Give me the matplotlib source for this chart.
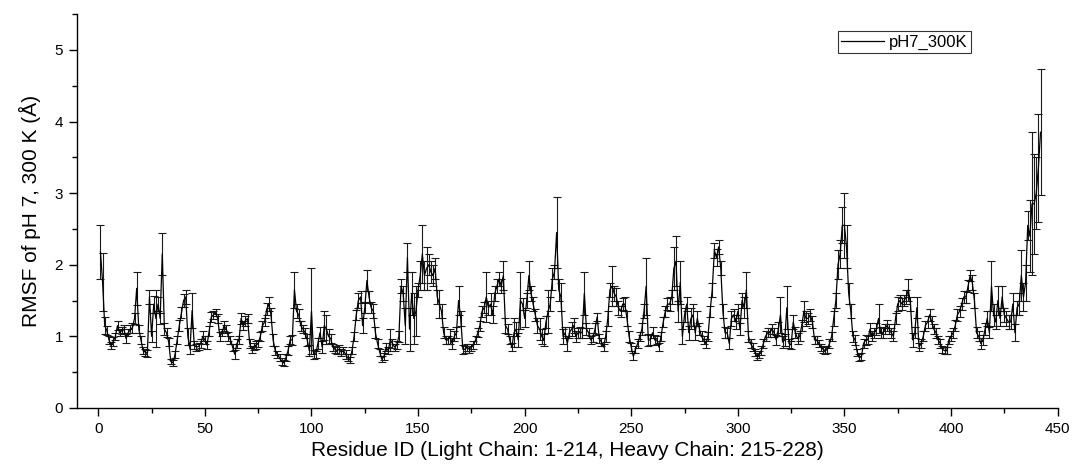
import numpy as np
import matplotlib
matplotlib.use("Agg")
import matplotlib.pyplot as plt
from matplotlib.ticker import MultipleLocator

plt.rcParams['font.family'] = ['Liberation Sans', 'DejaVu Sans']

# Per-residue RMSF (Å) for the Fab at pH 7, 300 K
rmsf = [
    2.18, 1.76, 1.15, 1.08, 0.95, 0.87, 0.93, 1.00, 1.15, 1.05,
    1.08, 1.10, 0.97, 1.05, 1.10, 1.12, 1.25, 1.67, 1.10, 0.95,
    0.80, 0.78, 0.76, 1.55, 1.00, 1.45, 1.25, 1.45, 1.25, 2.15,
    1.10, 1.05, 0.92, 0.65, 0.63, 0.75, 0.95, 1.15, 1.33, 1.50,
    1.55, 1.00, 0.82, 1.36, 0.88, 0.85, 0.86, 0.90, 1.00, 0.95,
    0.88, 1.08, 1.27, 1.30, 1.33, 1.25, 1.00, 1.05, 1.15, 1.10,
    1.00, 0.95, 0.85, 0.75, 0.90, 0.95, 1.25, 1.15, 1.22, 1.25,
    0.90, 0.82, 0.86, 0.88, 0.90, 1.00, 1.15, 1.20, 1.38, 1.45,
    1.30, 0.95, 0.80, 0.75, 0.70, 0.65, 0.63, 0.70, 0.80, 0.95,
    0.95, 1.65, 1.35, 1.30, 1.15, 1.10, 1.05, 0.95, 0.80, 1.35,
    0.75, 0.75, 0.90, 1.05, 0.85, 1.15, 1.10, 1.00, 0.97, 0.85,
    0.82, 0.80, 0.82, 0.78, 0.80, 0.75, 0.70, 0.67, 0.80, 1.00,
    1.30, 1.50, 1.55, 1.15, 1.40, 1.78, 1.55, 1.40, 1.35, 1.05,
    0.90, 0.78, 0.68, 0.72, 0.85, 0.80, 0.95, 0.90, 0.85, 0.88,
    1.00, 1.70, 1.60, 1.15, 2.10, 1.10, 1.60, 1.25, 1.35, 1.65,
    1.85, 2.15, 1.85, 1.95, 2.00, 1.90, 1.85, 1.95, 1.55, 1.45,
    1.35, 1.05, 0.95, 0.95, 1.00, 0.90, 1.00, 1.05, 1.50, 1.25,
    0.82, 0.82, 0.85, 0.82, 0.85, 0.88, 0.95, 1.05, 1.15, 1.35,
    1.40, 1.55, 1.40, 1.45, 1.30, 1.60, 1.70, 1.80, 1.70, 1.85,
    1.15, 1.10, 0.95, 0.85, 1.05, 1.10, 0.95, 1.50, 1.45, 1.25,
    1.50, 1.85, 1.60, 1.45, 1.30, 1.15, 1.10, 1.00, 0.95, 1.20,
    1.35, 1.45, 1.80, 1.90, 2.45, 1.65, 1.55, 1.00, 1.05, 0.90,
    1.05, 1.10, 1.15, 1.00, 1.05, 1.05, 1.05, 1.60, 1.10, 1.05,
    0.95, 0.98, 1.10, 1.27, 0.97, 0.92, 0.85, 1.00, 1.25, 1.65,
    1.70, 1.60, 1.55, 1.40, 1.35, 1.45, 1.45, 1.25, 1.00, 0.85,
    0.72, 0.82, 0.90, 1.00, 1.10, 1.35, 1.70, 0.95, 0.95, 1.05,
    0.95, 0.95, 0.85, 1.00, 1.20, 1.35, 1.45, 1.45, 1.55, 1.95,
    2.05, 1.35, 1.75, 1.00, 1.30, 1.45, 1.05, 1.25, 1.30, 1.05,
    1.25, 1.10, 1.00, 0.95, 0.90, 1.00, 1.35, 1.65, 2.20, 2.10,
    2.25, 1.95, 1.35, 1.05, 1.05, 0.90, 1.25, 1.30, 1.20, 1.35,
    1.10, 1.50, 1.40, 1.65, 1.00, 0.90, 0.85, 0.78, 0.72, 0.75,
    0.80, 0.90, 1.00, 1.05, 1.05, 1.10, 1.05, 0.95, 1.10, 1.30,
    0.92, 0.95, 1.40, 0.90, 0.88, 1.20, 1.05, 0.97, 1.00, 1.15,
    1.35, 1.25, 1.25, 1.30, 1.20, 0.95, 0.95, 0.90, 0.85, 0.82,
    0.80, 0.82, 0.90, 1.00, 1.25, 1.50, 2.00, 2.15, 2.55, 2.55,
    2.25, 1.60, 1.35, 1.00, 0.95, 0.78, 0.70, 0.72, 0.90, 0.95,
    0.95, 1.10, 1.00, 1.05, 1.10, 1.25, 1.05, 1.05, 1.10, 1.15,
    1.10, 1.05, 1.00, 1.25, 1.45, 1.50, 1.45, 1.50, 1.55, 1.65,
    1.45, 0.95, 1.05, 1.40, 0.85, 0.90, 1.00, 1.15, 1.20, 1.30,
    1.20, 1.10, 1.05, 0.95, 0.90, 0.82, 0.80, 0.80, 0.95, 1.00,
    1.05, 1.15, 1.30, 1.35, 1.45, 1.55, 1.55, 1.70, 1.85, 1.75,
    1.50, 1.05, 1.00, 0.90, 0.95, 1.10, 1.25, 1.05, 1.70, 1.30,
    1.20, 1.50, 1.25, 1.55, 1.30, 1.25, 1.20, 1.20, 1.45, 1.05,
    1.40, 1.45, 1.85, 1.55, 1.75, 2.55, 2.40, 2.85, 2.85, 3.00,
    3.35, 3.85,
]

# Standard deviation of the RMSF over replicas (Å)
rmsf_sd = [
    0.38, 0.40, 0.12, 0.06, 0.05, 0.05, 0.06, 0.05, 0.06, 0.05,
    0.05, 0.06, 0.06, 0.05, 0.06, 0.07, 0.08, 0.23, 0.06, 0.06,
    0.05, 0.05, 0.05, 0.10, 0.08, 0.12, 0.40, 0.10, 0.08, 0.30,
    0.08, 0.06, 0.06, 0.04, 0.04, 0.05, 0.06, 0.08, 0.08, 0.09,
    0.10, 0.12, 0.06, 0.25, 0.06, 0.05, 0.05, 0.06, 0.07, 0.06,
    0.06, 0.07, 0.07, 0.06, 0.05, 0.06, 0.06, 0.05, 0.07, 0.06,
    0.06, 0.05, 0.05, 0.06, 0.06, 0.06, 0.08, 0.06, 0.07, 0.06,
    0.06, 0.05, 0.05, 0.06, 0.05, 0.06, 0.07, 0.06, 0.08, 0.10,
    0.10, 0.08, 0.06, 0.05, 0.05, 0.05, 0.04, 0.05, 0.06, 0.06,
    0.07, 0.25, 0.10, 0.08, 0.07, 0.06, 0.07, 0.08, 0.08, 0.60,
    0.06, 0.05, 0.08, 0.08, 0.08, 0.20, 0.20, 0.10, 0.06, 0.05,
    0.05, 0.05, 0.06, 0.05, 0.05, 0.06, 0.05, 0.04, 0.05, 0.06,
    0.07, 0.10, 0.08, 0.10, 0.08, 0.15, 0.08, 0.08, 0.10, 0.08,
    0.06, 0.05, 0.04, 0.05, 0.06, 0.05, 0.15, 0.06, 0.05, 0.06,
    0.08, 0.10, 0.10, 0.25, 0.20, 0.30, 0.30, 0.35, 0.35, 0.10,
    0.20, 0.40, 0.20, 0.30, 0.15, 0.15, 0.15, 0.15, 0.10, 0.20,
    0.10, 0.08, 0.06, 0.06, 0.10, 0.08, 0.07, 0.08, 0.20, 0.10,
    0.06, 0.05, 0.05, 0.05, 0.05, 0.05, 0.06, 0.06, 0.07, 0.08,
    0.08, 0.35, 0.10, 0.15, 0.12, 0.10, 0.10, 0.10, 0.10, 0.20,
    0.10, 0.07, 0.06, 0.06, 0.20, 0.10, 0.10, 0.40, 0.08, 0.12,
    0.10, 0.20, 0.10, 0.10, 0.08, 0.10, 0.15, 0.10, 0.08, 0.08,
    0.30, 0.10, 0.15, 0.10, 0.50, 0.15, 0.20, 0.10, 0.08, 0.10,
    0.08, 0.10, 0.10, 0.08, 0.07, 0.08, 0.07, 0.30, 0.08, 0.07,
    0.06, 0.06, 0.08, 0.05, 0.06, 0.06, 0.05, 0.08, 0.10, 0.10,
    0.28, 0.10, 0.12, 0.10, 0.08, 0.08, 0.10, 0.10, 0.08, 0.06,
    0.05, 0.05, 0.06, 0.06, 0.08, 0.10, 0.40, 0.08, 0.07, 0.08,
    0.07, 0.06, 0.06, 0.06, 0.07, 0.08, 0.08, 0.10, 0.10, 0.30,
    0.35, 0.15, 0.30, 0.10, 0.10, 0.10, 0.10, 0.15, 0.15, 0.10,
    0.10, 0.08, 0.07, 0.06, 0.06, 0.06, 0.08, 0.10, 0.10, 0.12,
    0.10, 0.10, 0.10, 0.08, 0.07, 0.07, 0.10, 0.08, 0.10, 0.10,
    0.08, 0.10, 0.15, 0.25, 0.08, 0.06, 0.06, 0.05, 0.05, 0.05,
    0.06, 0.06, 0.07, 0.06, 0.06, 0.07, 0.06, 0.07, 0.10, 0.25,
    0.08, 0.08, 0.30, 0.06, 0.06, 0.10, 0.08, 0.07, 0.07, 0.08,
    0.15, 0.10, 0.08, 0.08, 0.08, 0.06, 0.06, 0.05, 0.05, 0.05,
    0.05, 0.05, 0.06, 0.06, 0.10, 0.10, 0.20, 0.20, 0.25, 0.45,
    0.30, 0.15, 0.10, 0.08, 0.07, 0.05, 0.05, 0.05, 0.06, 0.07,
    0.06, 0.08, 0.07, 0.07, 0.08, 0.20, 0.08, 0.07, 0.07, 0.08,
    0.07, 0.07, 0.07, 0.08, 0.10, 0.08, 0.08, 0.08, 0.10, 0.15,
    0.10, 0.10, 0.08, 0.15, 0.06, 0.06, 0.07, 0.07, 0.08, 0.08,
    0.08, 0.07, 0.07, 0.06, 0.06, 0.05, 0.05, 0.05, 0.06, 0.07,
    0.07, 0.08, 0.08, 0.08, 0.08, 0.08, 0.08, 0.08, 0.08, 0.10,
    0.10, 0.08, 0.07, 0.07, 0.07, 0.08, 0.10, 0.08, 0.35, 0.15,
    0.10, 0.20, 0.10, 0.15, 0.10, 0.10, 0.10, 0.10, 0.15, 0.12,
    0.10, 0.15, 0.35, 0.20, 0.25, 0.20, 0.50, 1.00, 0.70, 0.50,
    0.75, 0.88,
]

residue = np.arange(1, len(rmsf) + 1)

fig = plt.figure(figsize=(10.74, 4.70), dpi=100)
ax = fig.add_axes([0.0717, 0.132, 0.913, 0.838])

ax.errorbar(residue, rmsf, yerr=rmsf_sd, fmt='none', ecolor='#1a1a1a',
            elinewidth=0.8, capsize=3, capthick=0.8)
ax.plot(residue, rmsf, color='black', lw=0.9, label='pH7_300K')

ax.set_xlim(-10, 450)
ax.set_ylim(0, 5.5)
ax.xaxis.set_major_locator(MultipleLocator(50))
ax.xaxis.set_minor_locator(MultipleLocator(25))
ax.yaxis.set_major_locator(MultipleLocator(1))
ax.yaxis.set_minor_locator(MultipleLocator(0.5))

for side in ('top', 'right'):
    ax.spines[side].set_visible(False)
for side in ('left', 'bottom'):
    ax.spines[side].set_linewidth(1.0)

ax.tick_params(which='major', direction='out', length=6, width=1, labelsize=11, pad=4)
ax.tick_params(which='minor', direction='out', length=3.5, width=1)

ax.set_xlabel('Residue ID (Light Chain: 1-214, Heavy Chain: 215-228)', fontsize=15, labelpad=4)
ax.set_ylabel('RMSF of pH 7, 300 K (Å)', fontsize=15, labelpad=10)

leg = ax.legend(loc='upper right', bbox_to_anchor=(0.912, 0.957), fontsize=12,
                frameon=True, fancybox=False, handlelength=2.6, borderpad=0.2,
                handletextpad=0.3, borderaxespad=0)
leg.get_frame().set_edgecolor('black')
leg.get_frame().set_linewidth(0.8)

fig.savefig('out.png', dpi=100)
